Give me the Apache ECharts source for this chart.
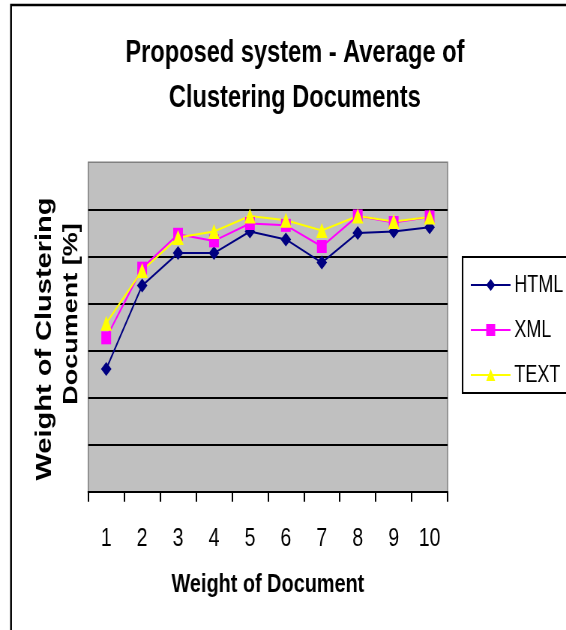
<!DOCTYPE html>
<html>
<head>
<meta charset="utf-8">
<script src="https://cdn.jsdelivr.net/npm/echarts@6/dist/echarts.min.js"></script>
<style>
html, body { margin: 0; padding: 0; width: 566px; height: 630px; overflow: hidden; background: #fff; }
#chart { width: 755px; height: 630px; transform: scaleX(0.7497); transform-origin: 0 0; }
</style>
</head>
<body>
<div id="chart"></div>
<script>
// ---- data ----
const categories = ['1', '2', '3', '4', '5', '6', '7', '8', '9', '10'];
const htmlValues = [26.1, 43.8, 50.7, 50.7, 55.3, 53.6, 48.7, 55.0, 55.3, 56.2];
const xmlValues  = [32.7, 47.5, 54.7, 53.3, 57.0, 56.6, 52.1, 58.6, 57.2, 58.4];
const textValues = [35.8, 47.0, 54.0, 55.3, 58.6, 57.7, 55.5, 58.6, 57.4, 58.4];
const seriesNames = ['HTML', 'XML', 'TEXT'];
const titleLines = ['Proposed system - Average of', 'Clustering Documents'];
const yTitleLines = ['Weight of Clustering', 'Document [%]'];
const xTitle = 'Weight of Document';

const FONT = '"Liberation Sans", Arial, sans-serif';
const chart = echarts.init(document.getElementById('chart'));

chart.setOption({
  animation: false,
  backgroundColor: '#ffffff',
  graphic: [
    { type: 'rect', silent: true, z: 0,
      shape: { x: 14.7, y: 5, width: 1000, height: 1000 },
      style: { fill: 'none', stroke: '#000', lineWidth: 2.5 } },
    { type: 'text', x: 393.3, y: 53, silent: true,
      style: { text: titleLines[0], font: 'bold 31.5px ' + FONT, fill: '#000',
               align: 'center', verticalAlign: 'middle', textAlign: 'center', textVerticalAlign: 'middle' } },
    { type: 'text', x: 393.3, y: 98, silent: true,
      style: { text: titleLines[1], font: 'bold 31.5px ' + FONT, fill: '#000',
               align: 'center', verticalAlign: 'middle', textAlign: 'center', textVerticalAlign: 'middle' } },
    { type: 'text', x: 60, y: 339, rotation: Math.PI / 2, silent: true,
      style: { text: yTitleLines[0], font: 'bold 29px ' + FONT, fill: '#000',
               align: 'center', verticalAlign: 'middle', textAlign: 'center', textVerticalAlign: 'middle' } },
    { type: 'text', x: 96, y: 314, rotation: Math.PI / 2, silent: true,
      style: { text: yTitleLines[1], font: 'bold 27px ' + FONT, fill: '#000',
               align: 'center', verticalAlign: 'middle', textAlign: 'center', textVerticalAlign: 'middle' } }
  ],
  grid: {
    left: 117.7, right: 158, top: 162.3, bottom: 138.3,
    containLabel: false, outerBoundsMode: 'none',
    show: true, backgroundColor: '#C0C0C0', borderColor: '#808080', borderWidth: 1.5
  },
  legend: {
    orient: 'vertical',
    left: 617, top: 257,
    padding: [16, 40, 6, 10],
    borderColor: '#000', borderWidth: 2,
    itemWidth: 53, itemHeight: 15, itemGap: 21,
    textStyle: { fontSize: 24, fontFamily: FONT, color: '#000', lineHeight: 24 },
    data: seriesNames
  },
  xAxis: {
    type: 'category',
    data: categories,
    boundaryGap: true,
    axisLine: { show: true, lineStyle: { color: '#000', width: 2 } },
    axisTick: { show: true, length: 10, lineStyle: { color: '#000', width: 2 } },
    axisLabel: { fontSize: 26, fontFamily: FONT, color: '#000', margin: 34 },
    splitLine: { show: false },
    name: xTitle, nameLocation: 'middle', nameGap: 79,
    nameTextStyle: { fontSize: 26.5, fontWeight: 'bold', fontFamily: FONT, color: '#000' }
  },
  yAxis: {
    type: 'value', min: 0, max: 70, interval: 10,
    axisLabel: { show: false }, axisTick: { show: false }, axisLine: { show: false },
    splitLine: { show: true, showMaxLine: false, lineStyle: { color: '#000', width: 2 } }
  },
  series: [
    { name: seriesNames[0], type: 'line', data: htmlValues, symbol: 'diamond', symbolSize: [14, 14],
      showSymbol: true, showAllSymbol: true,
      lineStyle: { color: '#000080', width: 2 }, itemStyle: { color: '#000080' } },
    { name: seriesNames[1], type: 'line', data: xmlValues, symbol: 'rect', symbolSize: [13, 13],
      showSymbol: true, showAllSymbol: true,
      lineStyle: { color: '#FF00FF', width: 2 }, itemStyle: { color: '#FF00FF' } },
    { name: seriesNames[2], type: 'line', data: textValues, symbol: 'triangle', symbolSize: [15, 15],
      showSymbol: true, showAllSymbol: true,
      lineStyle: { color: '#FFFF00', width: 2 }, itemStyle: { color: '#FFFF00' } }
  ]
});
</script>
</body>
</html>
